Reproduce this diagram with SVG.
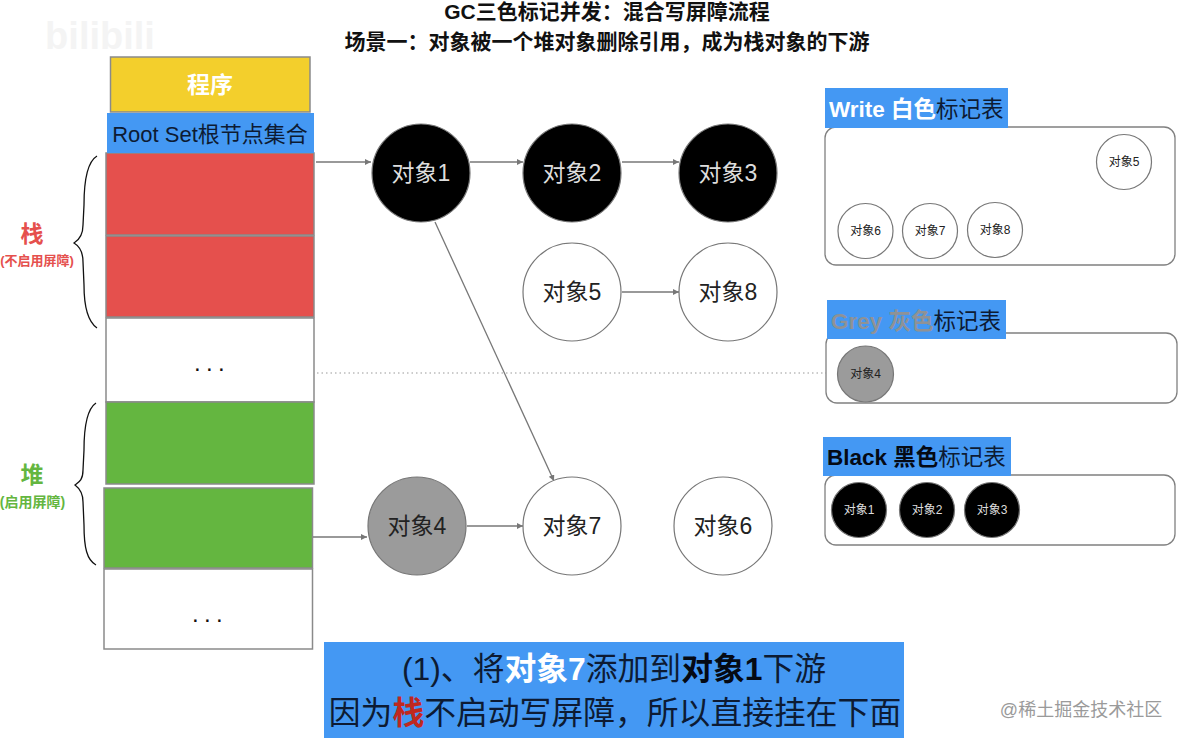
<svg xmlns="http://www.w3.org/2000/svg" width="1182" height="741" viewBox="0 0 1182 741">
<style>
text{font-family:"Liberation Sans","Noto Sans CJK SC",sans-serif;text-anchor:middle}
.cell{stroke:#8a8a8a;stroke-width:1.5}
.white{fill:#fff}
.blue{fill:#4498f3}
.obj{stroke:#777;stroke-width:1.2;fill:#fff}
.blk{fill:#000}.gry{fill:#9b9b9b}
.big{font-size:23px;fill:#222}
.sm{font-size:12px;fill:#222}
.tbl{fill:#fff;stroke:#808080;stroke-width:1.3}
.lab{font-size:22.500px;text-anchor:start;fill:#0d1b33}
.b{font-weight:bold}
.dots{font-size:24px;fill:#111;letter-spacing:5.300px}
.con{stroke:#777;stroke-width:1.3;fill:none}
.brace{stroke:#111;stroke-width:1.3;fill:none}
</style>
<defs>
<marker id="arr" markerWidth="8" markerHeight="8" refX="6" refY="3" orient="auto" markerUnits="userSpaceOnUse"><path d="M0 0L6 3L0 6Z" fill="#777"/></marker>
</defs>
<rect width="1182" height="741" fill="#fff"/>
<text x="100" y="49" fill="#f4f4f4" style="font-size:38px;font-weight:bold">bilibili</text>
<g id="title">
<text x="607" y="19" font-size="21" font-weight="bold" fill="#111">GC三色标记并发：混合写屏障流程</text>
<text x="607" y="49" font-size="21" font-weight="bold" fill="#111">场景一：对象被一个堆对象删除引用，成为栈对象的下游</text>
</g>
<g id="stack">
<rect id="program" class="cell" x="110.500" y="57" width="199.500" height="55" fill="#f3cf2c"/>
<text x="210" y="93" font-size="23" font-weight="bold" fill="#fff">程序</text>
<rect class="cell" x="106" y="153" width="208" height="82" fill="#e5504d"/>
<rect class="cell" x="106" y="236" width="208" height="81" fill="#e5504d"/>
<rect class="cell white" x="106" y="318" width="208" height="84"/>
<text class="dots" x="212" y="371">...</text>
<rect class="cell" x="106" y="402" width="208" height="82" fill="#64b640"/>
<rect class="cell" x="104" y="488" width="208.500" height="80" fill="#64b640"/>
<rect class="cell white" x="104" y="569" width="208.500" height="80"/>
<text class="dots" x="210" y="622">...</text>
<rect class="blue" x="107" y="113" width="207" height="40"/>
<text x="210" y="142" font-size="22" fill="#0d1b33">Root Set根节点集合</text>
</g>
<g id="braces">
<path class="brace" d="M97 156C87 162 84 180 84 205L83 225C83 235 79 240 74 243C79 246 83 251 83 262L84 285C84 305 87 321 97 328"/>
<path class="brace" d="M96 403C87 409 84 425 84 450L83 470C83 480 79 482 75 485C79 488 83 492 83 502L84 525C84 548 87 560 96 565"/>
<text x="32" y="242" font-size="23" font-weight="bold" fill="#e5504d">栈</text>
<text x="37" y="265" font-size="13" font-weight="bold" fill="#e5504d">(不启用屏障)</text>
<text x="32" y="483" font-size="23" font-weight="bold" fill="#64b640">堆</text>
<text x="32.500" y="507" font-size="14" font-weight="bold" fill="#64b640">(启用屏障)</text>
</g>
<g id="connectors">
<path class="con" marker-end="url(#arr)" d="M316 162H371"/>
<path class="con" marker-end="url(#arr)" d="M470 162H523"/>
<path class="con" marker-end="url(#arr)" d="M622 162H679"/>
<path class="con" marker-end="url(#arr)" d="M622 292H679"/>
<path class="con" marker-end="url(#arr)" d="M313 537H367"/>
<path class="con" marker-end="url(#arr)" d="M467 526H523"/>
<path class="con" marker-end="url(#arr)" d="M435 222L554 481"/>
<path d="M317 373H826" stroke="#999" stroke-width="1" stroke-dasharray="1.500 3" fill="none"/>
</g>
<g id="obj1"><circle class="obj blk" cx="421" cy="173" r="49"/><text class="big" x="421" y="181" style="fill:#ddd">对象1</text></g>
<g id="obj2"><circle class="obj blk" cx="572" cy="173" r="49"/><text class="big" x="572" y="181" style="fill:#ddd">对象2</text></g>
<g id="obj3"><circle class="obj blk" cx="728" cy="173" r="49"/><text class="big" x="728" y="181" style="fill:#ddd">对象3</text></g>
<g id="obj5"><circle class="obj" cx="572" cy="292" r="49"/><text class="big" x="572" y="300">对象5</text></g>
<g id="obj8"><circle class="obj" cx="728" cy="292" r="49"/><text class="big" x="728" y="300">对象8</text></g>
<g id="obj4"><circle class="obj gry" cx="417" cy="526" r="49"/><text class="big" x="417" y="534">对象4</text></g>
<g id="obj7"><circle class="obj" cx="572" cy="526" r="49"/><text class="big" x="572" y="534">对象7</text></g>
<g id="obj6"><circle class="obj" cx="723" cy="526" r="49"/><text class="big" x="723" y="534">对象6</text></g>
<g id="white-table">
<rect class="tbl" x="825" y="127" width="350" height="138" rx="11"/>
<rect class="blue" x="825" y="88" width="183" height="40"/>
<text class="lab" x="829" y="117"><tspan class="b" fill="#fff">Write 白色</tspan>标记表</text>
<g><circle class="obj" cx="1124" cy="162" r="27.500"/><text class="sm" x="1124" y="166">对象5</text></g>
<g><circle class="obj" cx="865.500" cy="231" r="27.500"/><text class="sm" x="865.500" y="235">对象6</text></g>
<g><circle class="obj" cx="930" cy="231" r="27.500"/><text class="sm" x="930" y="235">对象7</text></g>
<g><circle class="obj" cx="995" cy="230" r="27.500"/><text class="sm" x="995" y="234">对象8</text></g>
</g>
<g id="grey-table">
<rect class="tbl" x="826" y="333" width="351" height="70" rx="11"/>
<rect class="blue" x="827" y="300" width="179" height="39"/>
<text class="lab" x="831" y="329"><tspan class="b" fill="#8f9296">Grey 灰色</tspan>标记表</text>
<g><circle class="obj gry" cx="865.500" cy="374" r="28"/><text class="sm" x="865.500" y="378">对象4</text></g>
</g>
<g id="black-table">
<rect class="tbl" x="825" y="475" width="350" height="70" rx="11"/>
<rect class="blue" x="823" y="437" width="188" height="39"/>
<text class="lab" x="827" y="465"><tspan class="b" fill="#050a14">Black 黑色</tspan>标记表</text>
<g><circle class="obj blk" cx="859" cy="510" r="27.500"/><text class="sm" x="859" y="514" style="fill:#ddd">对象1</text></g>
<g><circle class="obj blk" cx="927" cy="510" r="27.500"/><text class="sm" x="927" y="514" style="fill:#ddd">对象2</text></g>
<g><circle class="obj blk" cx="992" cy="510" r="27.500"/><text class="sm" x="992" y="514" style="fill:#ddd">对象3</text></g>
</g>
<g id="note">
<rect class="blue" x="324" y="642" width="580" height="96"/>
<text x="614" y="680" font-size="31.800" fill="#0d1b33">(1)、将<tspan font-weight="bold" fill="#fff">对象7</tspan>添加到<tspan font-weight="bold" fill="#050a14">对象1</tspan>下游</text>
<text x="615" y="724" font-size="31.800" fill="#0d1b33">因为<tspan font-weight="bold" fill="#c0281f">栈</tspan>不启动写屏障，所以直接挂在下面</text>
</g>
<text x="1081" y="716" font-size="18" fill="#9a9a9a">@稀土掘金技术社区</text>
</svg>
